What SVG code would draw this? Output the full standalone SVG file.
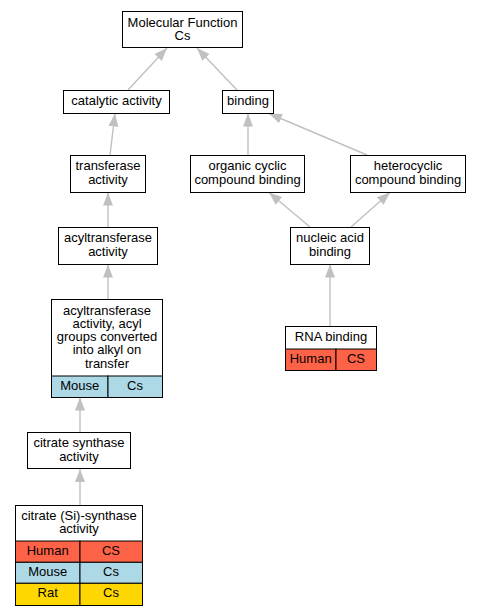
<svg xmlns="http://www.w3.org/2000/svg" width="481" height="616" viewBox="0 0 481 616">
<defs>
<marker id="arr" markerUnits="userSpaceOnUse" markerWidth="14" markerHeight="11" refX="13" refY="5" orient="auto">
<path d="M0,0 L13,5 L0,10 Z" fill="#c0c0c0"/>
</marker>
<style>
.n{fill:#fff;stroke:#000;stroke-width:1}
.c{stroke:#000;stroke-width:1}
.h{fill:#ff6347}
.m{fill:#add8e6}
.r{fill:#ffd700}
text{font-family:"Liberation Sans",Arial,sans-serif;font-size:13px;text-anchor:middle;fill:#000}
.e line{stroke:#c0c0c0;stroke-width:1.4;marker-end:url(#arr)}
</style>
</defs>
<rect width="481" height="616" fill="#fff"/>
<g id="edges" class="e">
<line x1="128" y1="90" x2="167" y2="48"/>
<line x1="237" y1="90" x2="197" y2="48"/>
<line x1="110" y1="155" x2="115" y2="113.5"/>
<line x1="248" y1="155" x2="248" y2="113.5"/>
<line x1="367" y1="155" x2="269" y2="113.5"/>
<line x1="108" y1="227" x2="108" y2="192.5"/>
<line x1="310" y1="227" x2="269" y2="192.5"/>
<line x1="351" y1="227" x2="390" y2="192.5"/>
<line x1="330" y1="326" x2="330" y2="264.5"/>
<line x1="108" y1="299" x2="108" y2="264.5"/>
<line x1="80" y1="432" x2="80" y2="397.5"/>
<line x1="80" y1="505" x2="80" y2="469"/>
</g>
<g id="mf">
<rect class="n" x="122.5" y="11.5" width="120" height="36"/>
<text x="182.5" y="26.5">Molecular Function</text>
<text x="182.5" y="39.5">Cs</text>
</g>
<g id="catalytic">
<rect class="n" x="63.5" y="90.5" width="106" height="23"/>
<text x="116.5" y="105">catalytic activity</text>
</g>
<g id="binding">
<rect class="n" x="222.5" y="90.5" width="51" height="23"/>
<text x="248" y="105">binding</text>
</g>
<g id="transferase">
<rect class="n" x="70.5" y="155.5" width="75" height="37"/>
<text x="108" y="170">transferase</text>
<text x="108" y="183.5">activity</text>
</g>
<g id="organic">
<rect class="n" x="190.5" y="155.5" width="114" height="37"/>
<text x="247.5" y="170">organic cyclic</text>
<text x="247.5" y="183.5">compound binding</text>
</g>
<g id="hetero">
<rect class="n" x="350.5" y="155.5" width="115" height="37"/>
<text x="408" y="170">heterocyclic</text>
<text x="408" y="183.5">compound binding</text>
</g>
<g id="acyltrans">
<rect class="n" x="58.5" y="227.5" width="99" height="37"/>
<text x="108" y="242">acyltransferase</text>
<text x="108" y="255.5">activity</text>
</g>
<g id="nucleic">
<rect class="n" x="290.5" y="227.5" width="79" height="37"/>
<text x="330" y="242">nucleic acid</text>
<text x="330" y="255.5">binding</text>
</g>
<g id="acylgroups">
<rect class="n" x="51.5" y="299.5" width="111" height="98"/>
<rect class="m c" x="51.5" y="376" width="56.5" height="21.5"/>
<rect class="m c" x="108" y="376" width="54.5" height="21.5"/>
<text x="107" y="314.5">acyltransferase</text>
<text x="107" y="327.8">activity, acyl</text>
<text x="107" y="341.1">groups converted</text>
<text x="107" y="354.4">into alkyl on</text>
<text x="107" y="367.7">transfer</text>
<text x="79.7" y="389.5">Mouse</text>
<text x="135" y="389.5">Cs</text>
</g>
<g id="rna">
<rect class="n" x="285.5" y="326.5" width="91" height="44"/>
<rect class="h c" x="285.5" y="349" width="50.5" height="21.5"/>
<rect class="h c" x="336" y="349" width="40.5" height="21.5"/>
<text x="331" y="341">RNA binding</text>
<text x="310.7" y="363">Human</text>
<text x="356" y="363">CS</text>
</g>
<g id="citsynth">
<rect class="n" x="27.5" y="432.5" width="103" height="36"/>
<text x="79" y="447">citrate synthase</text>
<text x="79" y="461">activity</text>
</g>
<g id="citsi">
<rect class="n" x="15.5" y="505.5" width="127" height="100"/>
<rect class="h c" x="15.5" y="541" width="64.5" height="21.3"/>
<rect class="h c" x="80" y="541" width="62.5" height="21.3"/>
<rect class="m c" x="15.5" y="562.3" width="64.5" height="21"/>
<rect class="m c" x="80" y="562.3" width="62.5" height="21"/>
<rect class="r c" x="15.5" y="583.3" width="64.5" height="22.2"/>
<rect class="r c" x="80" y="583.3" width="62.5" height="22.2"/>
<text x="79" y="519.5">citrate (Si)-synthase</text>
<text x="79" y="533">activity</text>
<text x="47.7" y="555">Human</text>
<text x="111" y="555">CS</text>
<text x="47.7" y="576">Mouse</text>
<text x="111" y="576">Cs</text>
<text x="47.7" y="597">Rat</text>
<text x="111" y="597">Cs</text>
</g>
</svg>
